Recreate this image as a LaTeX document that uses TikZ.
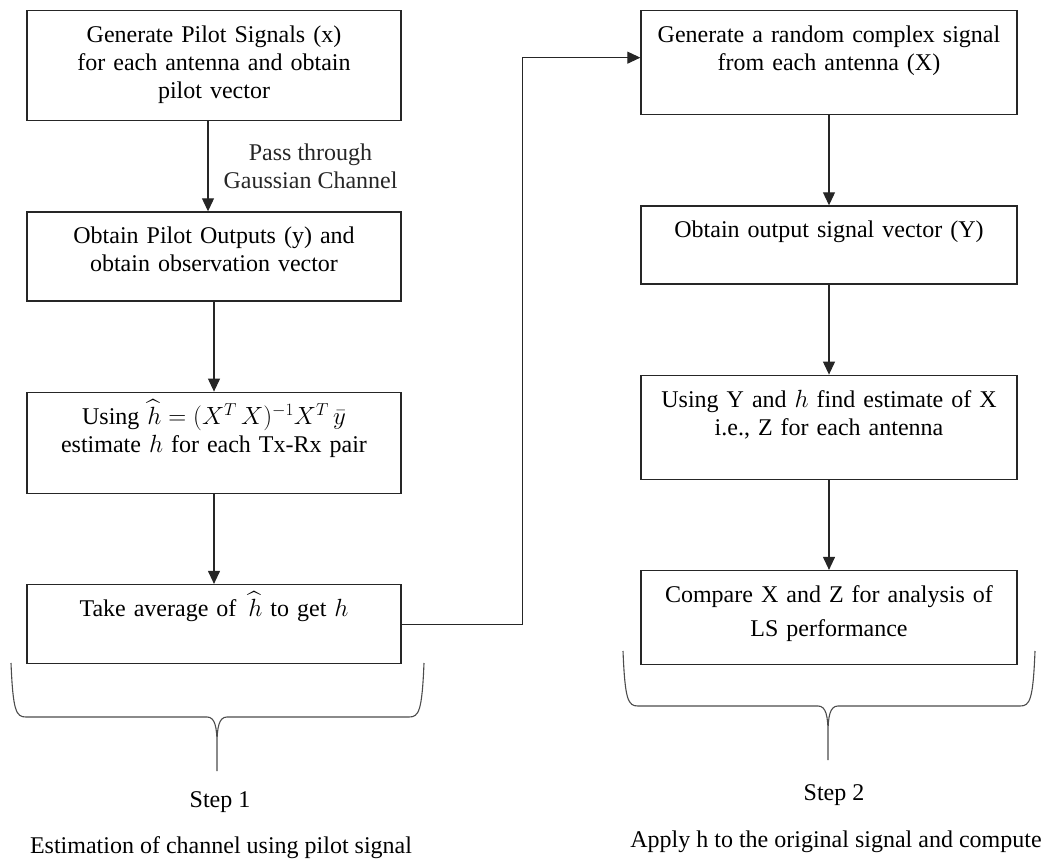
\documentclass[tikz,border=0pt]{standalone}
\usepackage{fontspec}
\setmainfont{Liberation Serif}
\usepackage{amsmath}
\usetikzlibrary{positioning,arrows.meta,calc}

\tikzstyle{box}     = [rectangle, draw=black!85, line width=1.3pt, text width=362pt,
                       align=center, inner xsep=6pt, inner ysep=12pt, text height=20pt]
\tikzstyle{arrow}   = [line width=1.1pt, black!85, -{Triangle[length=13pt, width=12pt]}]
\tikzstyle{line}    = [line width=1.1pt, black!70]
\tikzstyle{caption} = [anchor=base, inner sep=0pt]

% brace: left x, right x, tip x, top y, level y, tip y
\newcommand{\stepbrace}[6]{
  \draw[line] (#1,#4) .. controls ({#1+2},{#5-6}) and ({#1+5},#5) .. ({#1+15},#5)
    -- ({#3-10},#5) .. controls ({#3-2},#5) and (#3,{#5+10}) .. (#3,{#5+28})
    -- (#3,#6) -- (#3,{#5+28})
    .. controls (#3,{#5+10}) and ({#3+2},#5) .. ({#3+10},#5)
    -- ({#2-15},#5) .. controls ({#2-5},#5) and ({#2-2},{#5-6}) .. (#2,#4);
}

\begin{document}
\begin{tikzpicture}[x=1pt, y=-1pt, node distance=90pt,
            font=\fontsize{24pt}{28pt}\selectfont]
        \useasboundingbox (0,0) rectangle (1048,861);

        % step 1
        \node[box, anchor=north, text depth=66pt] (pilot) at (214,10)
            {Generate Pilot Signals (x)\\ for each antenna and obtain\\ pilot vector};
        \node[box, below=of pilot, text depth=45pt] (outputs)
            {Obtain Pilot Outputs (y) and\\ obtain observation vector};
        \node[box, below=of outputs, text depth=57pt] (lse)
            {Using $\thickmuskip=5mu \widehat{h} = (X^T\, X)^{-1} X^T\, \bar{y}$\\
             estimate $h$ for each Tx-Rx pair};
        \node[box, below=of lse, text depth=35pt] (avg)
            {Take average of\, $\widehat{h}$ to get $h$};

        % step 2
        \node[box, anchor=north, text width=364pt, text depth=60pt] (random) at (829,10)
            {Generate a random complex signal\\ from each antenna (X)};
        \node[box, below=of random, text width=364pt, text depth=34pt] (outvec)
            {Obtain output signal vector (Y)};
        \node[box, below=of outvec, text width=364pt, text depth=60pt] (estX)
            {Using Y and $h$ find estimate of X\\ i.e., Z for each antenna};
        \node[box, below=of estX, text width=364pt, text depth=50pt] (compare)
            {Compare X and Z for analysis of\\[6pt] LS performance};

        \draw[arrow] ([xshift=-6pt]pilot.south) -- node[anchor=west, align=center,
            inner sep=0pt, xshift=15pt] (pass) {Pass through\\ Gaussian Channel}
            ([xshift=-6pt]outputs.north);
        \draw[arrow] (outputs) -- (lse);
        \draw[arrow] (lse) -- (avg);
        \draw[arrow] (avg.east) -- ++(121,0) |- ([yshift=5pt]random.west);
        \draw[arrow] (random) -- (outvec);
        \draw[arrow] (outvec) -- (estX);
        \draw[arrow] (estX) -- (compare);

        \stepbrace{11}{424}{217}{663}{717}{771}
        \stepbrace{623}{1035}{828}{651}{706}{760}

        \node[caption] (step1) at (220,807) {Step 1};
        \node[caption] (est) at (221,853) {Estimation of channel using pilot signal};
        \node[caption] (step2) at (834,800) {Step 2};
        \node[caption] (apply) at (836,847) {Apply h to the original signal and compute};
    \end{tikzpicture}
\end{document}
